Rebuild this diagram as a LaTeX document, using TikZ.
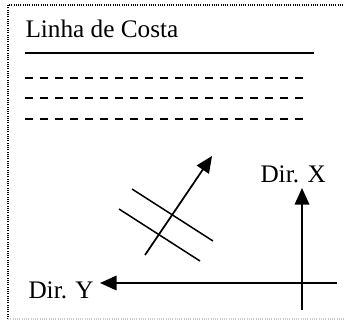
\documentclass[tikz,border=0pt]{standalone}
\usepackage{fontspec}
\setmainfont{Liberation Serif}
\usetikzlibrary{arrows.meta, positioning}

\begin{document}
\begin{tikzpicture}[
  x=0.4pt, y=-0.4pt,
  label/.style={inner sep=0pt, font=\fontsize{10.1}{12}\selectfont},
  shore/.style={line width=0.8pt},
  wave/.style={line width=0.8pt, dash pattern=on 3.2pt off 2.8pt},
  axis/.style={line width=0.7pt, -{Triangle[length=6.6pt, width=5.8pt]}},
  crest/.style={line width=0.6pt},
  frame/.style={line width=0.7pt, dash pattern=on 0.4pt off 0.5pt}
]
  \useasboundingbox (0,0) rectangle (344,320);

  % frame
  \draw[frame] (8,319) -- (8,5) -- (346,5);
  \draw[frame, black!20] (8,319) -- (346,319);

  % coast
  \node[label, anchor=base west] (costa) at (25,37) {Linha de Costa};
  \coordinate (c1) at (25,53);
  \coordinate (c2) at (314,53);
  \draw[shore] (c1) -- (c2);
  \foreach \y/\n in {78/1, 98/2, 119/3} {
    \coordinate (w\n a) at (25,\y);
    \coordinate (w\n b) at (310,\y);
    \draw[wave] (w\n a) -- (w\n b);
  }

  % wave direction
  \coordinate (d0) at (145,255);
  \coordinate (d1) at (212,156);
  \draw[axis] (d0) -- (d1);
  \coordinate (p1a) at (132,189);
  \coordinate (p1b) at (213,241);
  \coordinate (p2a) at (119,209);
  \coordinate (p2b) at (200,261);
  \draw[crest] (p1a) -- (p1b);
  \draw[crest] (p2a) -- (p2b);

  % axes
  \node[label, anchor=base west] (dirx) at (260,182) {Dir. X};
  \node[label, anchor=base west] (diry) at (28,298) {Dir. Y};
  \coordinate (ox) at (302,310);
  \coordinate (tx) at (302,188);
  \coordinate (oy) at (337,283);
  \coordinate (ty) at (100,283);
  \draw[axis] (ox) -- (tx);
  \draw[axis] (oy) -- (ty);
\end{tikzpicture}
\end{document}
